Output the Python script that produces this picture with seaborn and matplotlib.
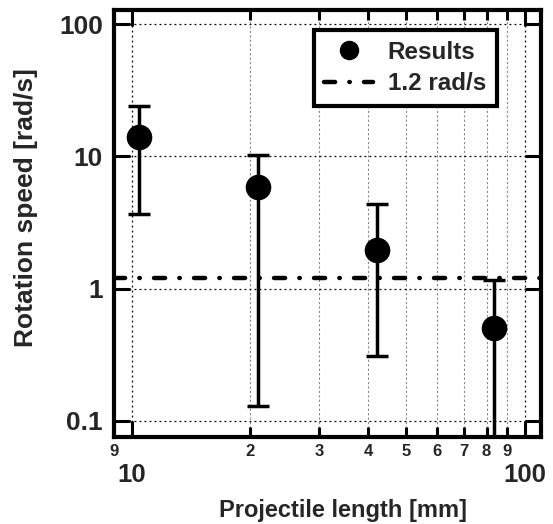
import matplotlib
matplotlib.use("Agg")
import matplotlib.pyplot as plt
import matplotlib.ticker as mticker
from matplotlib.lines import Line2D
import seaborn as sns
import numpy as np
import pandas as pd

# Data
lengths = [10.45, 20.9, 42.0, 83.8]
speeds = [13.9, 5.9, 1.97, 0.50]
err_low = [3.67, 0.129, 0.308, 0.01]
err_high = [24.2, 10.3, 4.37, 1.15]
ref_speed = 1.2
series_label = "Results"
ref_label = "1.2 rad/s"
minor_x_ticks = [9, 20, 30, 40, 50, 60, 70, 80, 90]
minor_x_labels = ["9", "2", "3", "4", "5", "6", "7", "8", "9"]
major_x_ticks = [10, 100]
major_x_labels = ["10", "100"]
y_ticks = [0.1, 1, 10, 100]
y_labels = ["0.1", "1", "10", "100"]

sns.set_style("ticks")
plt.rcParams['font.family'] = ['Liberation Sans', 'DejaVu Sans']
plt.rcParams['font.weight'] = 'bold'

df = pd.DataFrame({"length": lengths, "speed": speeds})

fig = plt.figure(figsize=(5.53, 5.24), dpi=100)
ax = fig.add_axes([0.206, 0.1666, 0.772, 0.8144])
ax.set_xscale("log")
ax.set_yscale("log")

dash = (0, (2.5, 3.2, 0.1, 3.2))

y = np.array(speeds)
yerr = [y - np.array(err_low), np.array(err_high) - y]
ax.errorbar(lengths, speeds, yerr=yerr, fmt='none', ecolor='black',
            elinewidth=2.5, capsize=8, capthick=2.5, zorder=3)
sns.scatterplot(data=df, x="length", y="speed", ax=ax, color='black',
                s=340, edgecolor='black', linewidth=0, zorder=4, legend=False)
ax.axhline(ref_speed, color='black', lw=3.2, linestyle=dash,
           dash_capstyle='round', zorder=2)

ax.set_xlim(9, 110)
ax.set_ylim(0.0757, 128)

ax.xaxis.set_major_locator(mticker.FixedLocator(major_x_ticks))
ax.xaxis.set_major_formatter(mticker.FixedFormatter(major_x_labels))
ax.xaxis.set_minor_locator(mticker.FixedLocator(minor_x_ticks))
ax.xaxis.set_minor_formatter(mticker.FixedFormatter(minor_x_labels))
ax.yaxis.set_major_locator(mticker.FixedLocator(y_ticks))
ax.yaxis.set_major_formatter(mticker.FixedFormatter(y_labels))
ax.yaxis.set_minor_locator(mticker.NullLocator())

ax.tick_params(which='major', direction='in', length=11.5, width=2.2,
               top=True, right=True, color='black')
ax.tick_params(which='minor', direction='in', length=7, width=2.2,
               top=True, right=True, color='black')
ax.tick_params(axis='x', which='major', labelsize=18.5, pad=19)
ax.tick_params(axis='x', which='minor', labelsize=12, pad=5)
ax.tick_params(axis='y', which='major', labelsize=19, pad=8)
for lab in ax.get_xticklabels(which='both') + ax.get_yticklabels():
    lab.set_fontweight('bold')

for sp in ax.spines.values():
    sp.set_linewidth(3)
    sp.set_color('black')

ax.grid(True, which='major', axis='both', color='black', linestyle=(0, (1.5, 2.5)), lw=0.9)
ax.grid(True, which='minor', axis='x', color='#888888', linestyle=(0, (2, 2)), lw=0.8)

ax.set_xlabel("Projectile length [mm]", fontsize=17, fontweight='bold')
ax.set_ylabel("Rotation speed [rad/s]", fontsize=19, fontweight='bold')
ax.xaxis.set_label_coords(0.536, -0.145)
ax.yaxis.set_label_coords(-0.178, 0.537)

handles = [
    Line2D([], [], marker='o', color='black', linestyle='none', markersize=13),
    Line2D([], [], color='black', lw=3.2, linestyle=dash, dash_capstyle='round'),
]
leg = ax.legend(handles, [series_label, ref_label], loc='upper right',
                bbox_to_anchor=(0.897, 0.953), frameon=True, fancybox=False,
                prop={'size': 17.5, 'weight': 'bold'}, handlelength=2.0,
                borderpad=0.45, labelspacing=0.35, handletextpad=0.6,
                borderaxespad=0)
leg.get_frame().set_edgecolor('black')
leg.get_frame().set_linewidth(3)
leg.get_frame().set_alpha(1)

fig.savefig("out.png", dpi=100)
